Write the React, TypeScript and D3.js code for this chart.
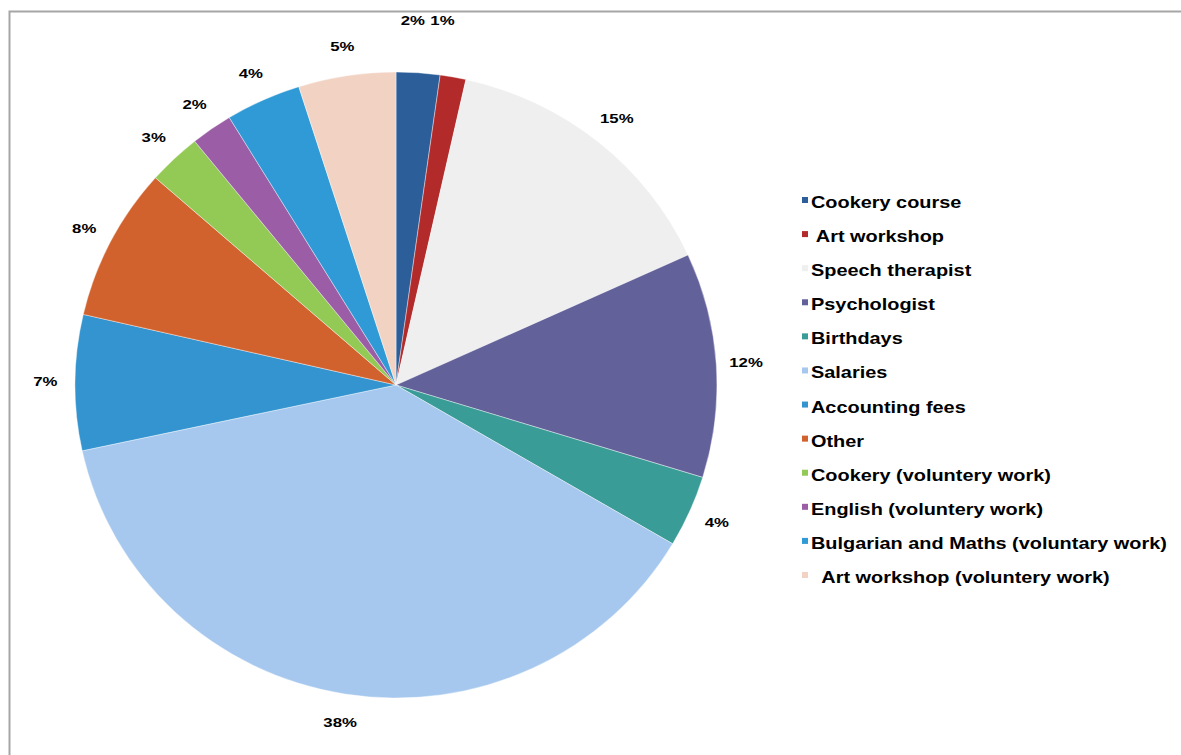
import React from "react";
import * as d3 from "d3";

const categories = [
  "Cookery course",
  "Art workshop",
  "Speech therapist",
  "Psychologist",
  "Birthdays",
  "Salaries",
  "Accounting fees",
  "Other",
  "Cookery (voluntery work)",
  "English (voluntery work)",
  "Bulgarian and Maths (voluntary work)",
  "Art workshop (voluntery work)",
];
const legendLabels = [
  "Cookery course",
  " Art workshop",
  "Speech therapist",
  "Psychologist",
  "Birthdays",
  "Salaries",
  "Accounting fees",
  "Other",
  "Cookery (voluntery work)",
  "English (voluntery work)",
  "Bulgarian and Maths (voluntary work)",
  "  Art workshop (voluntery work)",
];
const values = [2.2, 1.3, 14.7, 11.6, 3.7, 38.2, 7.0, 7.9, 2.7, 2.1, 3.8, 4.9];
const colors = [
  "#2C5F9A",
  "#B22A2A",
  "#EFEFEF",
  "#63619A",
  "#3A9C97",
  "#A6C8EE",
  "#3494D0",
  "#D2622D",
  "#93C955",
  "#9B5EA6",
  "#2F9AD5",
  "#F2D3C3",
];

const W = 1181;
const H = 755;
const cx = 396;
const cy = 385;
const R = 313;
const sx = 321 / 313;

export default function App() {
  const total = d3.sum(values);
  const pie = d3
    .pie<number>()
    .sort(null)
    .value((d) => d)
    .startAngle(0)
    .endAngle(2 * Math.PI);
  const arcs = pie(values);
  const arcGen = d3.arc<d3.PieArcDatum<number>>().innerRadius(0).outerRadius(R);

  const labelPos = (a: d3.PieArcDatum<number>, i: number) => {
    const mid = (a.startAngle + a.endAngle) / 2;
    let rl = 342;
    let x = cx + Math.sin(mid) * rl * sx;
    let y = cy - Math.cos(mid) * rl;
    // Small slices at the very top are lifted above the pie
    if (mid < 0.25) {
      rl = 364;
      x = cx + Math.sin(mid) * rl * sx - (i === 0 ? 9 : 20);
      y = cy - rl;
    }
    return [x, y];
  };

  const legendY = d3
    .scalePoint<string>()
    .domain(categories)
    .range([202, 577]);

  return (
    <svg
      width={W}
      height={H}
      style={{ position: "absolute", left: 0, top: 0, background: "#fff" }}
    >
      <rect x={0} y={0} width={W} height={H} fill="#fff" />
      <path
        d={`M9.5,${H} L9.5,11.5 L${W},11.5`}
        fill="none"
        stroke="#a6a6a6"
        strokeWidth={2}
      />
      <g transform={`translate(${cx},${cy}) scale(${sx},1)`}>
        {arcs.map((a, i) => (
          <path
            key={i}
            d={arcGen(a) || ""}
            fill={colors[i]}
            stroke="#ffffff"
            strokeWidth={0.4}
          />
        ))}
      </g>
      {arcs.map((a, i) => {
        const [x, y] = labelPos(a, i);
        return (
          <g key={"l" + i} transform={`translate(${x},${y}) scale(1.4,1)`}>
            <text
              x={0}
              y={0}
              textAnchor="middle"
              dominantBaseline="central"
              fontFamily="'Liberation Sans', Arial, sans-serif"
              fontWeight="bold"
              fontSize={12}
              fill="#000"
            >
              {Math.round((values[i] / total) * 100) + "%"}
            </text>
          </g>
        );
      })}
      {categories.map((c, i) => {
        const y = legendY(c) as number;
        return (
          <g key={"g" + i}>
            <rect x={802} y={y - 5} width={6} height={6} fill={colors[i]} />
            <g transform={`translate(811,${y}) scale(1.17,1)`}>
              <text
                x={0}
                y={0}
                dominantBaseline="central"
                fontFamily="'Liberation Sans', Arial, sans-serif"
                fontWeight="bold"
                fontSize={17}
                fill="#000"
                style={{ whiteSpace: "pre" }}
              >
                {legendLabels[i]}
              </text>
            </g>
          </g>
        );
      })}
    </svg>
  );
}
